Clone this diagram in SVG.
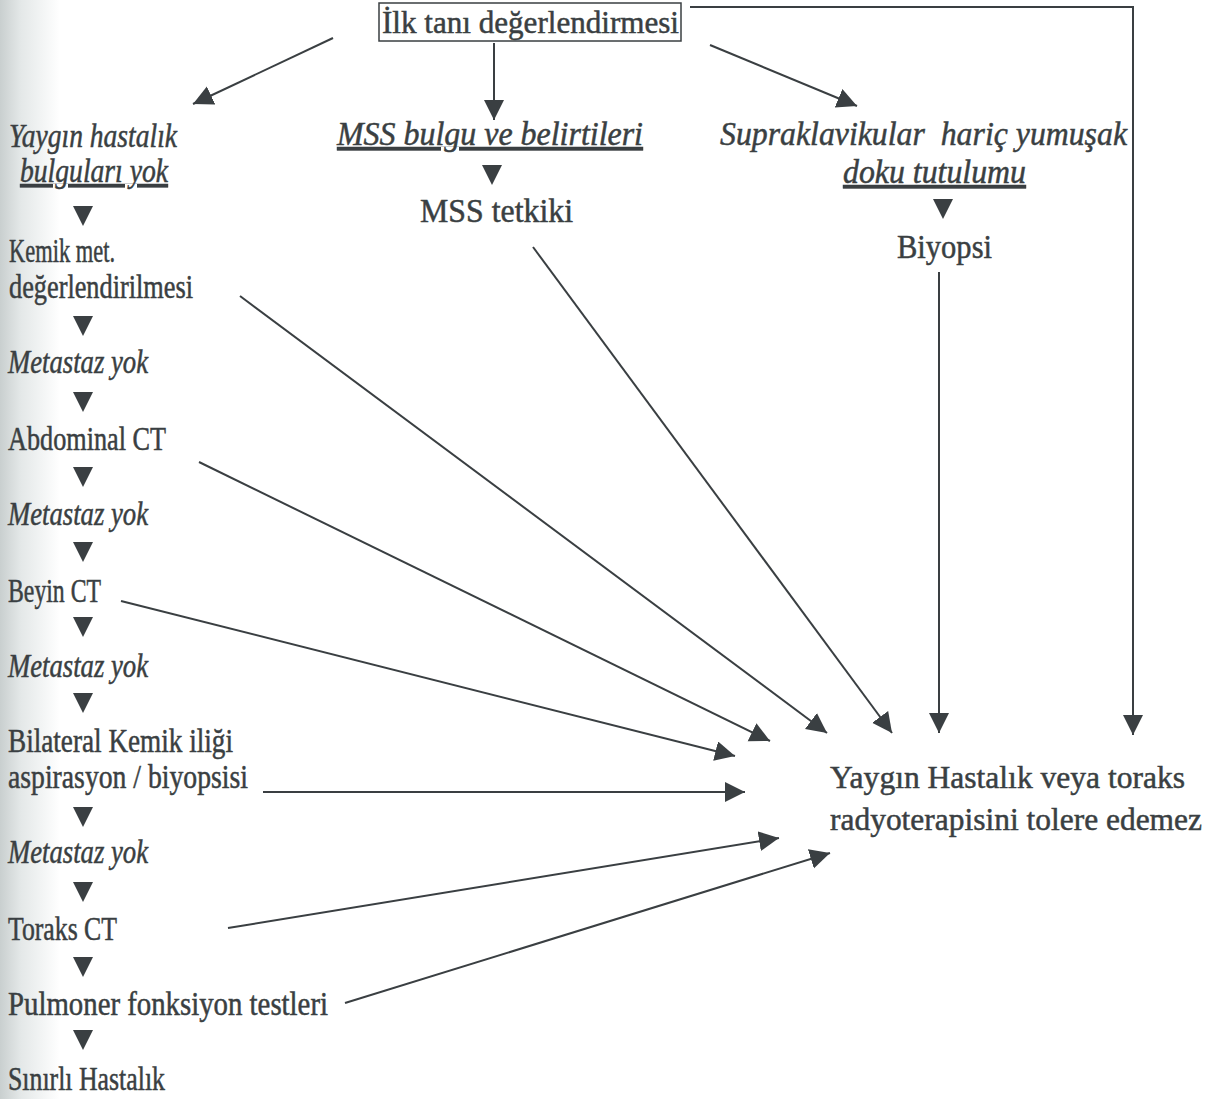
<svg xmlns="http://www.w3.org/2000/svg" width="1215" height="1099" viewBox="0 0 1215 1099">
<defs>
<linearGradient id="edge" x1="0" y1="0" x2="1" y2="0">
<stop offset="0" stop-color="#c9cfcf"/>
<stop offset="0.35" stop-color="#e4e8e8"/>
<stop offset="1" stop-color="#ffffff"/>
</linearGradient>
<marker id="ah" markerUnits="userSpaceOnUse" markerWidth="22" markerHeight="22" refX="20" refY="10" orient="auto">
<path d="M0,0 L20,10 L0,20 z" fill="#3a3f42"/>
</marker>
<path id="tri" d="M-10,0 L10,0 L0,20 z" fill="#3a3f42"/>
<style>
text{font-family:"Liberation Serif","Times New Roman",Tinos,Times,serif;fill:#3a3f42;stroke:#3a3f42;stroke-width:0.5;white-space:pre}
.l{font-size:33px}
.m{font-size:34px}
.b{font-size:32px}
.t{font-size:32px}
.i{font-style:italic}
.u{text-decoration:underline}
.c{stroke:#3a3f42;stroke-width:2;fill:none}
.box{fill:none;stroke:#3a3f42;stroke-width:1.5}
</style>
</defs>
<rect x="0" y="0" width="1215" height="1099" fill="#ffffff"/>
<rect x="0" y="0" width="60" height="1099" fill="url(#edge)"/>

<g id="connectors">
<line class="c" x1="333" y1="38" x2="193" y2="104" marker-end="url(#ah)"/>
<line class="c" x1="494" y1="43" x2="494" y2="120" marker-end="url(#ah)"/>
<line class="c" x1="710" y1="45" x2="857" y2="106" marker-end="url(#ah)"/>
<polyline class="c" points="690,7 1133,7 1133,735" marker-end="url(#ah)"/>
<line class="c" x1="533" y1="247" x2="892" y2="733" marker-end="url(#ah)"/>
<line class="c" x1="939" y1="272" x2="939" y2="733" marker-end="url(#ah)"/>
<line class="c" x1="240" y1="296" x2="827" y2="733" marker-end="url(#ah)"/>
<line class="c" x1="199" y1="462" x2="770" y2="741" marker-end="url(#ah)"/>
<line class="c" x1="121" y1="601" x2="735" y2="756" marker-end="url(#ah)"/>
<line class="c" x1="263" y1="792" x2="745" y2="792" marker-end="url(#ah)"/>
<line class="c" x1="228" y1="928" x2="779" y2="838" marker-end="url(#ah)"/>
<line class="c" x1="345" y1="1003" x2="830" y2="853" marker-end="url(#ah)"/>
<use href="#tri" x="83" y="206"/>
<use href="#tri" x="83" y="316"/>
<use href="#tri" x="83" y="392"/>
<use href="#tri" x="83" y="467"/>
<use href="#tri" x="83" y="542"/>
<use href="#tri" x="83" y="617"/>
<use href="#tri" x="83" y="693"/>
<use href="#tri" x="83" y="807"/>
<use href="#tri" x="83" y="882"/>
<use href="#tri" x="83" y="957"/>
<use href="#tri" x="83" y="1030"/>
<use href="#tri" x="492" y="165"/>
<use href="#tri" x="943" y="199"/>
</g>

<g id="ilk-tani">
<rect class="box" x="379" y="3" width="302" height="38"/>
<text class="b" x="382" y="33" textLength="297" lengthAdjust="spacingAndGlyphs">İlk tanı değerlendirmesi</text>
</g>
<g id="yaygin-yok">
<text class="l i" x="9" y="147" textLength="168" lengthAdjust="spacingAndGlyphs">Yaygın hastalık</text>
<text class="l i u" x="20" y="182" textLength="148" lengthAdjust="spacingAndGlyphs">bulguları yok</text>
</g>
<g id="kemik-met">
<text class="l" x="9" y="262" textLength="106" lengthAdjust="spacingAndGlyphs">Kemik met.</text>
<text class="l" x="9" y="298" textLength="184" lengthAdjust="spacingAndGlyphs">değerlendirilmesi</text>
</g>
<g id="metastaz-1"><text class="l i" x="8" y="373" textLength="140" lengthAdjust="spacingAndGlyphs">Metastaz yok</text></g>
<g id="abdominal-ct"><text class="l" x="8" y="450" textLength="158" lengthAdjust="spacingAndGlyphs">Abdominal CT</text></g>
<g id="metastaz-2"><text class="l i" x="8" y="525" textLength="140" lengthAdjust="spacingAndGlyphs">Metastaz yok</text></g>
<g id="beyin-ct"><text class="l" x="8" y="602" textLength="93" lengthAdjust="spacingAndGlyphs">Beyin CT</text></g>
<g id="metastaz-3"><text class="l i" x="8" y="677" textLength="140" lengthAdjust="spacingAndGlyphs">Metastaz yok</text></g>
<g id="bilateral">
<text class="l" x="8" y="752" textLength="225" lengthAdjust="spacingAndGlyphs">Bilateral Kemik iliği</text>
<text class="l" x="8" y="788" textLength="240" lengthAdjust="spacingAndGlyphs">aspirasyon / biyopsisi</text>
</g>
<g id="metastaz-4"><text class="l i" x="8" y="863" textLength="140" lengthAdjust="spacingAndGlyphs">Metastaz yok</text></g>
<g id="toraks-ct"><text class="l" x="8" y="940" textLength="109" lengthAdjust="spacingAndGlyphs">Toraks CT</text></g>
<g id="pulmoner"><text class="l" x="8" y="1015" textLength="320" lengthAdjust="spacingAndGlyphs">Pulmoner fonksiyon testleri</text></g>
<g id="sinirli"><text class="l" x="8" y="1090" textLength="157" lengthAdjust="spacingAndGlyphs">Sınırlı Hastalık</text></g>

<g id="mss-bulgu"><text class="m i u" x="337" y="145" textLength="306" lengthAdjust="spacingAndGlyphs">MSS bulgu ve belirtileri</text></g>
<g id="mss-tetkik"><text class="m" x="420" y="222" textLength="153" lengthAdjust="spacingAndGlyphs">MSS tetkiki</text></g>

<g id="supraklavikular">
<text class="m i" x="720" y="145" textLength="407" lengthAdjust="spacingAndGlyphs">Supraklavikular  hariç yumuşak</text>
<text class="m i u" x="843" y="183" textLength="183" lengthAdjust="spacingAndGlyphs">doku tutulumu</text>
</g>
<g id="biyopsi"><text class="m" x="897" y="258" textLength="95" lengthAdjust="spacingAndGlyphs">Biyopsi</text></g>

<g id="yaygin-hastalik">
<text class="t" x="830" y="788" textLength="355" lengthAdjust="spacingAndGlyphs">Yaygın Hastalık veya toraks</text>
<text class="t" x="830" y="830" textLength="372" lengthAdjust="spacingAndGlyphs">radyoterapisini tolere edemez</text>
</g>
</svg>
